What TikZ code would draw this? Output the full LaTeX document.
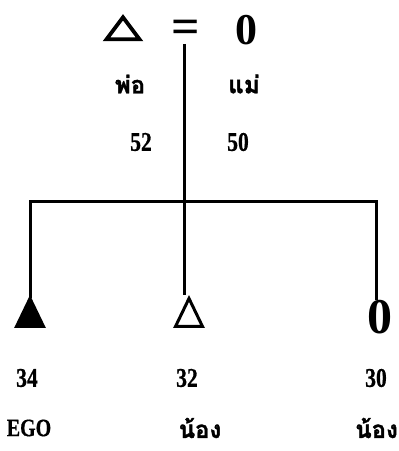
\documentclass[tikz,border=0pt]{standalone}
\usepackage{fontspec}
\setmainfont{Liberation Serif}
\newfontfamily\thaifont[Script=Thai, FakeBold=1.5]{Loma}
\newfontfamily\agefont[FakeStretch=0.8, FakeBold=0.6]{Liberation Serif}
\usetikzlibrary{shapes.geometric}

\tikzset{
  kinline/.style={line width=3pt},
  male/.style={draw, line width=3pt, isosceles triangle, isosceles triangle stretches,
    shape border rotate=90, inner sep=0pt, outer sep=0pt},
  female/.style={inner sep=0pt, font=\bfseries\fontsize{#1}{#1}\selectfont},
  agelabel/.style={inner sep=0pt, font=\agefont\bfseries\fontsize{27}{27}\selectfont},
  thailabel/.style={inner sep=0pt, font=\thaifont\bfseries\fontsize{24}{24}\selectfont}
}

\begin{document}
\begin{tikzpicture}[x=1pt, y=-1pt]
    \useasboundingbox (0,0) rectangle (399,451);

    % Parents
    \node[male, line width=3.8pt, minimum width=33pt, minimum height=22pt] (father) at (123,31) {};
    \node[female=50] (marry) at (186,32) {=};
    \node[female=44] (mother) at (246,30) {0};
    \node[thailabel] (fatherlbl) at (130,84) {พ่อ};
    \node[thailabel] (motherlbl) at (244,84) {แม่};
    \node[agelabel] (fatherage) at (141,142) {52};
    \node[agelabel] (motherage) at (238,142) {50};

    % Sibling bar
    \coordinate (barL) at (30,201);
    \coordinate (barM) at (184,201);
    \coordinate (barR) at (376,201);

    % Children
    \node[male, fill=black, minimum width=27pt, minimum height=28pt] (ego) at (30,318) {};
    \node[male, minimum width=27pt, minimum height=28pt] (brother) at (189,318) {};
    \node[female=50] (sister) at (380,317) {0};

    % Lines of descent
    \draw[kinline, shorten >=3pt] (marry.south -| barM) -- (barM |- brother.apex);
    \draw[kinline] (ego.apex) -- (barL) -- (barR) -- (barR |- sister.north);

    % Ages and labels
    \node[agelabel] (egoage) at (27,378) {34};
    \node[agelabel] (brotherage) at (187,378) {32};
    \node[agelabel] (sisterage) at (376,378) {30};
    \node[inner sep=0pt, font=\agefont\bfseries\fontsize{25}{25}\selectfont] (egolbl) at (29,428) {EGO};
    \node[thailabel] (brotherlbl) at (200,428) {น้อง};
    \node[thailabel, anchor=east] (sisterlbl) at (398,428) {น้อง};
\end{tikzpicture}
\end{document}
